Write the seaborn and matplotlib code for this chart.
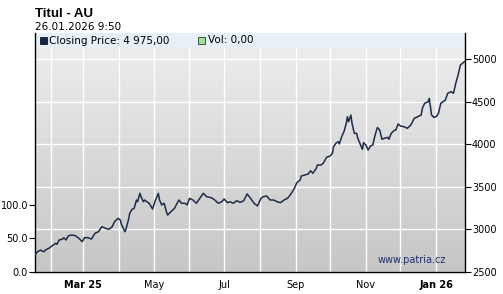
import numpy as np
import pandas as pd
import matplotlib
matplotlib.use("Agg")
import matplotlib.pyplot as plt
import matplotlib.dates as mdates
from matplotlib.patches import Rectangle
import seaborn as sns

# ---------------- data ----------------
dates = [
    "2025-01-18", "2025-01-20", "2025-01-23", "2025-01-24", "2025-01-26", "2025-01-27", "2025-01-30",
    "2025-02-02", "2025-02-05", "2025-02-06", "2025-02-08", "2025-02-11", "2025-02-12", "2025-02-14",
    "2025-02-15", "2025-02-16", "2025-02-19", "2025-02-22", "2025-02-25", "2025-02-28",
    "2025-03-02", "2025-03-05", "2025-03-08", "2025-03-11", "2025-03-14", "2025-03-17", "2025-03-20",
    "2025-03-23", "2025-03-26", "2025-03-28", "2025-03-31",
    "2025-04-02", "2025-04-03", "2025-04-06", "2025-04-07", "2025-04-09", "2025-04-10", "2025-04-12",
    "2025-04-14", "2025-04-16", "2025-04-17", "2025-04-19", "2025-04-20", "2025-04-22", "2025-04-23",
    "2025-04-25", "2025-04-27", "2025-04-30",
    "2025-05-02", "2025-05-05", "2025-05-06", "2025-05-08", "2025-05-10", "2025-05-12", "2025-05-13",
    "2025-05-16", "2025-05-19", "2025-05-22", "2025-05-23", "2025-05-25", "2025-05-28", "2025-05-30",
    "2025-06-01", "2025-06-04", "2025-06-07", "2025-06-10", "2025-06-13", "2025-06-16", "2025-06-20",
    "2025-06-23", "2025-06-26", "2025-06-29",
    "2025-07-01", "2025-07-04", "2025-07-06", "2025-07-09", "2025-07-12", "2025-07-15", "2025-07-18",
    "2025-07-21", "2025-07-24", "2025-07-27", "2025-07-30",
    "2025-08-02", "2025-08-04", "2025-08-07", "2025-08-10", "2025-08-13", "2025-08-16", "2025-08-19",
    "2025-08-22", "2025-08-25", "2025-08-28", "2025-08-31",
    "2025-09-02", "2025-09-05", "2025-09-06", "2025-09-09", "2025-09-12", "2025-09-14", "2025-09-16",
    "2025-09-19", "2025-09-20", "2025-09-23", "2025-09-25", "2025-09-28",
    "2025-10-01", "2025-10-03", "2025-10-04", "2025-10-06", "2025-10-08", "2025-10-09", "2025-10-11",
    "2025-10-13", "2025-10-15", "2025-10-16", "2025-10-17", "2025-10-19", "2025-10-20", "2025-10-22",
    "2025-10-24", "2025-10-25", "2025-10-28", "2025-10-29", "2025-10-30",
    "2025-11-01", "2025-11-03", "2025-11-05", "2025-11-07", "2025-11-09", "2025-11-11", "2025-11-13",
    "2025-11-15", "2025-11-17", "2025-11-20", "2025-11-21", "2025-11-23", "2025-11-26", "2025-11-27",
    "2025-11-29",
    "2025-12-01", "2025-12-04", "2025-12-07", "2025-12-10", "2025-12-13", "2025-12-16", "2025-12-19",
    "2025-12-20", "2025-12-22", "2025-12-25", "2025-12-26", "2025-12-28", "2025-12-30",
    "2026-01-01", "2026-01-03", "2026-01-05", "2026-01-07", "2026-01-09", "2026-01-11", "2026-01-14",
    "2026-01-16", "2026-01-18", "2026-01-20", "2026-01-22", "2026-01-26",
]
closing_price = [
    2700, 2738, 2758, 2747, 2738, 2758, 2778,
    2809, 2837, 2825, 2876, 2887, 2903, 2876,
    2903, 2926, 2934, 2926, 2896, 2856,
    2903, 2903, 2887, 2954, 2973, 3032, 3013,
    3001, 3032, 3091, 3130,
    3110, 3060, 2973, 3005, 3110, 3181, 3234,
    3248, 3345, 3325, 3424, 3384, 3325, 3345,
    3325, 3307, 3240,
    3325, 3424, 3345, 3287, 3307, 3208, 3169,
    3208, 3248, 3325, 3345, 3307, 3307, 3287,
    3365, 3345, 3307, 3365, 3424, 3384, 3372,
    3345, 3307, 3325,
    3357, 3314, 3325, 3307, 3337, 3318, 3337,
    3416, 3365, 3307, 3275,
    3365, 3384, 3392, 3345, 3345, 3325, 3314,
    3345, 3365, 3416, 3483,
    3545, 3580, 3627, 3639, 3651, 3689, 3659,
    3717, 3756, 3756, 3776, 3847,
    3862, 3894, 3971, 4011, 4030, 4003, 4088,
    4147, 4246, 4323, 4265, 4343, 4246, 4128,
    4128, 4070, 3971, 3940, 4018,
    3991, 3932, 3979, 3991, 4108, 4196, 4167,
    4058, 4070, 4081, 4058, 4128, 4167, 4167,
    4238,
    4214, 4206, 4187, 4226, 4304, 4323, 4343,
    4422, 4481, 4499, 4539, 4343, 4316,
    4323, 4363, 4481, 4499, 4519, 4598, 4617,
    4598, 4715, 4813, 4930, 4975,
]
volume = [0.0]

price_ticks = [2500, 3000, 3500, 4000, 4500, 5000]
volume_ticks = [0.0, 50.0, 100.0]
volume_tick_labels = ["0.0", "50.0", "100.0"]
x_tick_dates = ["2025-03-01", "2025-05-01", "2025-07-01", "2025-09-01", "2025-11-01", "2026-01-01"]
x_tick_labels = ["Mar 25", "May", "Jul", "Sep", "Nov", "Jan 26"]

title = "Titul - AU"
timestamp = "26.01.2026 9:50"
legend_price = "Closing Price: 4 975,00"
legend_vol = "Vol: 0,00"
watermark = "www.patria.cz"

df = pd.DataFrame({"date": pd.to_datetime(dates), "price": closing_price})

# ---------------- figure ----------------
sns.set_style("white")
plt.rcParams["font.family"] = ["DejaVu Sans"]

W, H = 503, 294
fig = plt.figure(figsize=(W / 100, H / 100), dpi=100, facecolor="white")
ax = fig.add_axes([35 / W, 22 / H, 430 / W, 239 / H])
axv = ax.twinx()  # volume axis (shown on the left)

# gradient background
grad = np.linspace(0, 1, 256)[:, None]
cmap = matplotlib.colors.LinearSegmentedColormap.from_list("bg", ["#efefef", "#c6c6c6"])
ax.imshow(grad, extent=[0, 1, 0, 1], transform=ax.transAxes, aspect="auto",
          cmap=cmap, zorder=0, interpolation="bilinear")

line_color = "#1e2b47"
sns.lineplot(data=df, x="date", y="price", ax=ax, color=line_color, linewidth=1.1, zorder=3)

x0 = pd.Timestamp("2025-01-18")
x1 = pd.Timestamp("2026-01-26")
ax.set_xlim(x0, x1)
ax.set_ylim(2500, 5306)
ax.set_xlabel("")
ax.set_ylabel("")

# grid
ax.set_axisbelow(True)
ax.xaxis.set_minor_locator(mdates.MonthLocator())
ax.set_xticks(pd.to_datetime(x_tick_dates))
ax.set_xticklabels(x_tick_labels)
for lbl in ax.get_xticklabels():
    if " " in lbl.get_text():
        lbl.set_fontweight("bold")
ax.grid(True, which="both", axis="x", color="white", linewidth=1.0, zorder=1)
ax.set_yticks(price_ticks)
ax.grid(True, which="major", axis="y", color="white", linewidth=1.0, zorder=1)

# legend band at top
ax.add_patch(Rectangle((0, 1 - 14 / 239), 1, 14 / 239, transform=ax.transAxes,
                       facecolor="#e7f0f6", edgecolor="none", zorder=2))

# right price axis
ax.yaxis.tick_right()
ax.tick_params(axis="y", which="major", direction="out", length=4, width=0.8, colors="black",
               labelsize=7, pad=1, right=True, left=False, labelright=True, labelleft=False)
ax.tick_params(axis="x", which="major", direction="out", length=3, width=0.8, colors="black",
               labelsize=7, pad=3)
ax.tick_params(axis="x", which="minor", length=0)
for s in ["left", "right", "bottom"]:
    ax.spines[s].set_visible(True)
    ax.spines[s].set_color("black")
    ax.spines[s].set_linewidth(1.0)
ax.spines["top"].set_visible(False)

# left volume axis
axv.set_ylim(0, 355)
axv.yaxis.tick_left()
axv.set_yticks(volume_ticks)
axv.set_yticklabels(volume_tick_labels)
axv.tick_params(axis="y", direction="out", length=4, width=0.8, colors="black", labelsize=7, pad=1,
                left=True, right=False, labelleft=True, labelright=False)
for s in ["top", "right", "left", "bottom"]:
    axv.spines[s].set_visible(False)
axv.grid(False)
axv.patch.set_visible(False)

# texts
fig.text(35 / W, 1 - 14 / H, title, fontsize=9.5, fontweight="bold",
         family=["Liberation Sans", "DejaVu Sans"], va="center", ha="left", color="black")
fig.text(35 / W, 1 - 27 / H, timestamp, fontsize=7.5, va="center", ha="left", color="black")

fig.patches.append(Rectangle((40 / W, 1 - 44 / H), 7 / W, 7 / H, transform=fig.transFigure,
                             facecolor="#17244a", edgecolor="#0c1430", linewidth=0.6, figure=fig))
fig.text(49 / W, 1 - 40.5 / H, legend_price, fontsize=7.5, va="center", ha="left", color="black")
fig.patches.append(Rectangle((198 / W, 1 - 44 / H), 7 / W, 7 / H, transform=fig.transFigure,
                             facecolor="#a6e09c", edgecolor="#1d3a1d", linewidth=0.6, figure=fig))
fig.text(208 / W, 1 - 40.5 / H, legend_vol, fontsize=7.5, va="center", ha="left", color="black")

ax.text(0.955, 0.05, watermark, transform=ax.transAxes, fontsize=7, color="#22306a",
        ha="right", va="center", zorder=4)

fig.savefig("out.png", dpi=100, facecolor="white")
